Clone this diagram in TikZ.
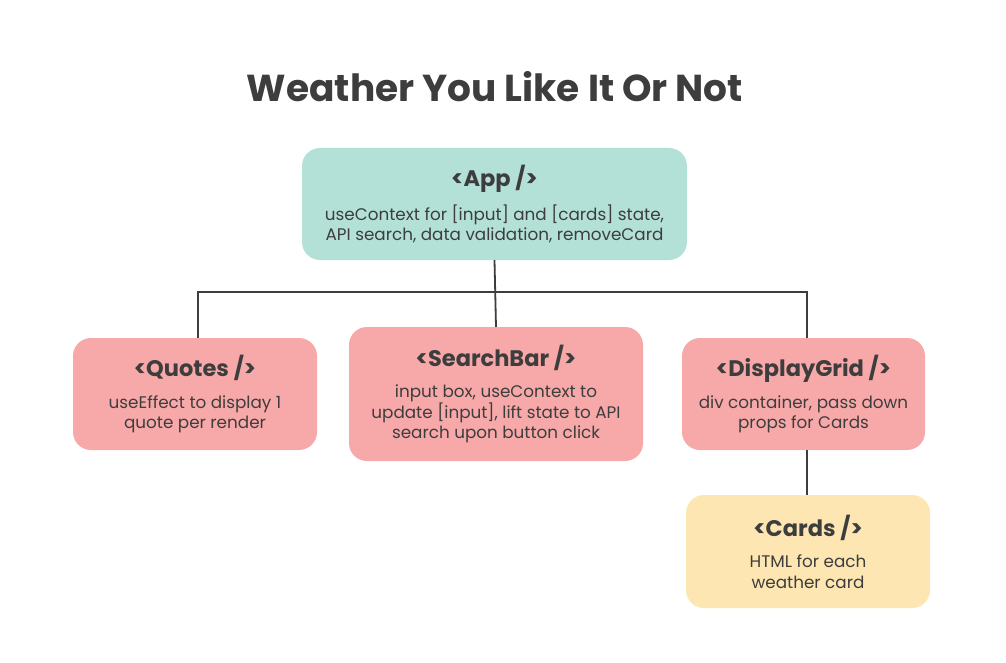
\documentclass[tikz,border=0pt]{standalone}
\usepackage{fontspec}
\setmainfont{Poppins}
\usetikzlibrary{calc}
\definecolor{ink}{HTML}{3D3D3D}
\definecolor{teal}{HTML}{B3E1D7}
\definecolor{pink}{HTML}{F7A8A8}
\definecolor{butter}{HTML}{FDE6B2}
\tikzset{
  box/.style={rounded corners=18pt, inner sep=0pt, align=center, text=ink, font=\fontsize{16.8}{20.5}\selectfont},
  wire/.style={draw=ink, line width=1.8pt},
}
\newcommand{\hdr}[1]{{\fontsize{22.5}{26}\selectfont\bfseries #1}\\[11pt]}
\begin{document}
\begin{tikzpicture}[x=1pt,y=-1pt]
\useasboundingbox[fill=white] (0,0) rectangle (1006,663);
\node[text=ink, font=\fontsize{37.5}{44}\selectfont\bfseries] (title) at (495,87) {Weather You Like It Or Not};
\node[box, fill=teal, minimum width=385pt, minimum height=112pt] (app) at (494.5,204)
  {\hdr{<App />}useContext for [input] and [cards] state,\\API search, data validation, removeCard};
\node[box, fill=pink, minimum width=244pt, minimum height=112pt] (quotes) at (195,394)
  {\hdr{<Quotes />}useEffect to display 1\\quote per render};
\node[box, fill=pink, minimum width=294pt, minimum height=134pt] (search) at (496,394)
  {\hdr{<SearchBar />}input box, useContext to\\update [input], lift state to API\\search upon button click};
\node[box, fill=pink, minimum width=243pt, minimum height=112pt] (grid) at (803.5,394)
  {\hdr{<DisplayGrid />}div container, pass down\\props for Cards};
\node[box, fill=butter, minimum width=244pt, minimum height=113pt] (cards) at (808,551.5)
  {\hdr{<Cards />}HTML for each\\weather card};
\coordinate (busL) at (198,292);
\coordinate (busR) at (807,292);
\draw[wire] (app.south) -- (search.north);
\draw[wire] (quotes.north -| busL) -- (busL) -- (busR) -- (grid.north -| busR);
\draw[wire] (grid.south -| busR) -- (cards.north -| busR);
\end{tikzpicture}
\end{document}
